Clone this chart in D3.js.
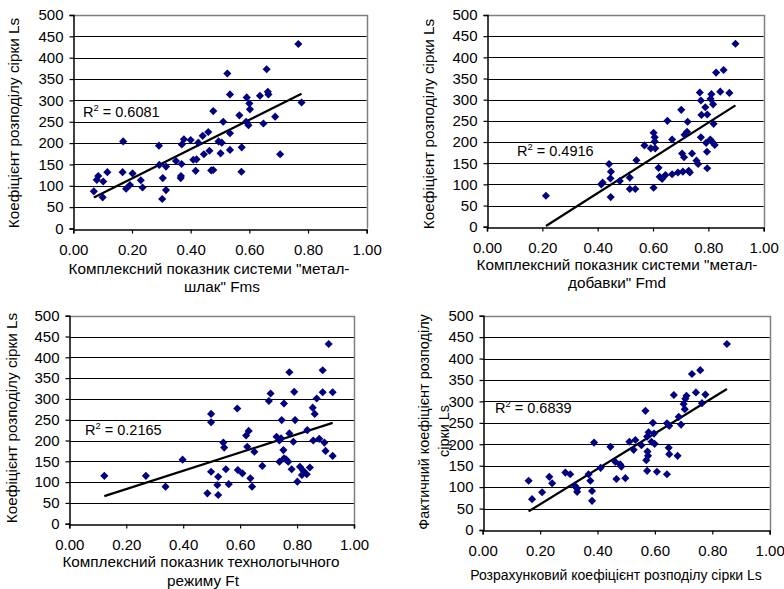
<!DOCTYPE html>
<html>
<head>
<meta charset="utf-8">
<script src="https://cdn.jsdelivr.net/npm/d3@7"></script>
<style>
  html, body { margin: 0; padding: 0; background: #fff; }
  svg { display: block; font-family: "Liberation Sans", Arial, sans-serif; }
</style>
</head>
<body>
<svg id="chart" width="784" height="589"></svg>
<script>
// Sulphur distribution coefficient Ls against the complex indicators

// "metal-slag" system indicator Fms
const fmsX = [0.070, 0.080, 0.085, 0.102, 0.100, 0.116, 0.170, 0.168, 0.180, 0.193, 0.202, 0.230, 0.236,
  0.292, 0.293, 0.303, 0.305, 0.316, 0.316, 0.350, 0.366, 0.367, 0.369, 0.370, 0.377, 0.400, 0.409,
  0.417, 0.420, 0.426, 0.441, 0.445, 0.460, 0.464, 0.470, 0.477, 0.477, 0.495, 0.502, 0.506, 0.511,
  0.525, 0.534, 0.534, 0.534, 0.566, 0.574, 0.573, 0.591, 0.589, 0.597, 0.600, 0.602, 0.636, 0.648,
  0.659, 0.663, 0.665, 0.688, 0.705, 0.767, 0.778];
const fmsY = [87, 114, 123, 110, 73, 132, 204, 132, 93, 102, 129, 113, 96,
  194, 149, 69, 118, 145, 90, 158, 118, 123, 151, 197, 209, 207, 161,
  135, 162, 201, 217, 174, 226, 182, 136, 137, 275, 204, 176, 201, 250,
  363, 223, 184, 314, 265, 190, 133, 307, 250, 242, 293, 279, 311, 246,
  373, 320, 314, 262, 174, 432, 295];

// "metal-additives" system indicator Fmd
const fmdX = [0.213, 0.413, 0.418, 0.441, 0.448, 0.446, 0.447, 0.480, 0.516, 0.516, 0.536, 0.540,
  0.569, 0.592, 0.602, 0.602, 0.606, 0.608, 0.606, 0.620, 0.624, 0.633, 0.645, 0.652, 0.669, 0.669,
  0.690, 0.702, 0.705, 0.708, 0.712, 0.714, 0.723, 0.725, 0.729, 0.733, 0.741, 0.757, 0.763, 0.769,
  0.773, 0.773, 0.775, 0.789, 0.792, 0.795, 0.796, 0.796, 0.807, 0.808, 0.811, 0.813, 0.817, 0.819,
  0.823, 0.828, 0.855, 0.843, 0.876, 0.898];
const fmdY = [73, 100, 104, 148, 130, 114, 70, 108, 116, 89, 89, 157,
  192, 185, 92, 222, 211, 185, 201, 139, 118, 113, 122, 250, 124, 206,
  128, 276, 173, 130, 164, 217, 224, 248, 132, 128, 173, 156, 148, 317,
  298, 211, 264, 282, 198, 177, 138, 265, 206, 302, 313, 201, 289, 243,
  193, 364, 370, 319, 316, 432];

// technological mode indicator Ft
const ftX = [0.123, 0.269, 0.338, 0.398, 0.485, 0.498, 0.498, 0.498, 0.520, 0.523, 0.523, 0.541,
  0.544, 0.550, 0.560, 0.590, 0.592, 0.608, 0.621, 0.625, 0.630, 0.636, 0.642, 0.650, 0.678, 0.701,
  0.707, 0.728, 0.738, 0.738, 0.746, 0.744, 0.752, 0.754, 0.754, 0.761, 0.769, 0.773, 0.773, 0.781,
  0.787, 0.790, 0.793, 0.801, 0.810, 0.817, 0.822, 0.834, 0.836, 0.845, 0.855, 0.857, 0.862, 0.869,
  0.878, 0.890, 0.890, 0.896, 0.900, 0.911, 0.925, 0.925];
const ftY = [115, 115, 89, 154, 73, 264, 244, 125, 93, 113, 69, 195,
  183, 131, 95, 277, 129, 121, 212, 185, 223, 109, 89, 173, 139, 295,
  313, 209, 149, 200, 249, 205, 177, 289, 157, 155, 149, 364, 217, 131,
  197, 317, 249, 101, 137, 117, 127, 119, 225, 135, 279, 200, 264, 301,
  204, 316, 369, 195, 175, 432, 316, 163];

// calculated coefficient Ls
const calcX = [0.160, 0.172, 0.207, 0.232, 0.242, 0.288, 0.305, 0.321, 0.329, 0.329, 0.369, 0.375,
  0.381, 0.381, 0.388, 0.411, 0.445, 0.462, 0.466, 0.479, 0.483, 0.497, 0.511, 0.526, 0.532, 0.553,
  0.567, 0.573, 0.570, 0.573, 0.574, 0.576, 0.578, 0.588, 0.593, 0.597, 0.599, 0.607, 0.642, 0.642,
  0.650, 0.648, 0.650, 0.666, 0.679, 0.683, 0.691, 0.700, 0.704, 0.706, 0.710, 0.729, 0.743, 0.758,
  0.764, 0.776, 0.851];
const calcY = [115, 72, 88, 124, 109, 134, 130, 103, 97, 89, 130, 115,
  91, 68, 204, 145, 194, 159, 119, 153, 148, 121, 206, 187, 210, 198,
  278, 218, 163, 138, 183, 173, 228, 206, 250, 225, 201, 136, 130, 249,
  243, 192, 177, 315, 173, 264, 246, 294, 282, 306, 313, 364, 321, 373,
  296, 316, 434];

const xTicks = [0, 0.2, 0.4, 0.6, 0.8, 1.0];
const yTicks = [0, 50, 100, 150, 200, 250, 300, 350, 400, 450, 500];
const r2Labels = ["0.6081", "0.4916", "0.2165", "0.6839"];
const yTitles = [
  ["Коефіцієнт розподілу сірки Ls"],
  ["Коефіцієнт розподілу сірки Ls"],
  ["Коефіцієнт розподілу сірки Ls"],
  ["Фактичний коефіцієнт розподілу", "сірки Ls"]
];
const xTitles = [
  ["Комплексний показник системи \"метал-", "шлак\" Fms"],
  ["Комплексний показник системи \"метал-", "добавки\" Fmd"],
  ["Комплексний показник технологычного", "режиму Ft"],
  ["Розрахунковий коефіцієнт розподілу сірки Ls"]
];

const svg = d3.select("#chart");
const TICK_FONT = 15;
const R2_FONT = 14.5;
const navy = "#000080";

const panels = [
  { xs: fmsX, ys: fmsY, box: [73.3, 366.7, 15, 228.5], titleFont: [15.3, 15.3],
    yTitle: { x: [15], y: [123] }, xTitle: { y: [274, 292], cx: [209, 222] }, r2: [83, 117] },
  { xs: fmdX, ys: fmdY, box: [487, 763.7, 15, 226.7], titleFont: [15.3, 15.3],
    yTitle: { x: [430], y: [124] }, xTitle: { y: [270, 288], cx: [617, 617] }, r2: [517, 156] },
  { xs: ftX, ys: ftY, box: [69.3, 354, 315.7, 523.7], titleFont: [15.3, 15.3],
    yTitle: { x: [13], y: [418] }, xTitle: { y: [566.5, 585.5], cx: [201, 203] }, r2: [85, 435] },
  { xs: calcX, ys: calcY, box: [482.7, 769.7, 315.7, 530], titleFont: [14.4, 14],
    yTitle: { x: [425, 445], y: [422, 431] }, xTitle: { y: [580], cx: [616] }, r2: [495, 413] }
];

// Ordinary least-squares line y = a + b x
function fitLine(xs, ys) {
  const n = xs.length;
  const mx = d3.mean(xs), my = d3.mean(ys);
  let sxy = 0, sxx = 0;
  for (let i = 0; i < n; i++) {
    sxy += (xs[i] - mx) * (ys[i] - my);
    sxx += (xs[i] - mx) * (xs[i] - mx);
  }
  const b = sxy / sxx;
  return { a: my - b * mx, b };
}

panels.forEach((p, i) => {
  const [x0, x1, y0, y1] = p.box;
  const x = d3.scaleLinear().domain([0, 1]).range([x0, x1]);
  const y = d3.scaleLinear().domain([0, 500]).range([y1, y0]);
  const g = svg.append("g");

  // horizontal gridlines
  g.append("g").selectAll("line").data(yTicks.filter(v => v > 0 && v < 500)).join("line")
    .attr("x1", x0).attr("x2", x1)
    .attr("y1", d => Math.round(y(d)) + 0.5).attr("y2", d => Math.round(y(d)) + 0.5)
    .attr("stroke", "#000").attr("stroke-width", 1);

  // plot frame (top and right)
  g.append("path")
    .attr("d", `M${x0},${Math.round(y0) + 0.5}H${Math.round(x1) + 0.5}V${y1}`)
    .attr("fill", "none").attr("stroke", "#808080").attr("stroke-width", 1.5);

  // axes
  const yAxis = d3.axisLeft(y).tickValues(yTicks).tickSize(4).tickFormat(d3.format("d"));
  const xAxis = d3.axisBottom(x).tickValues(xTicks).tickSize(4).tickFormat(d3.format(".2f"));

  const ya = g.append("g").attr("transform", `translate(${Math.round(x0) + 0.5},0)`).call(yAxis);
  const xa = g.append("g").attr("transform", `translate(0,${Math.round(y1) + 0.5})`).call(xAxis);
  [ya, xa].forEach(a => {
    a.select(".domain").attr("stroke", "#000").attr("stroke-width", 1.5);
    a.selectAll(".tick line").attr("stroke", "#000").attr("stroke-width", 1.2);
    a.selectAll("text").attr("font-size", TICK_FONT).attr("font-family", "Liberation Sans, Arial, sans-serif")
      .attr("fill", "#000");
  });
  ya.selectAll(".tick text").attr("x", -10);
  xa.selectAll(".tick text").attr("y", 14.5);

  // trend line over the range of the observations
  const fit = fitLine(p.xs, p.ys);
  const ext = d3.extent(p.xs);
  g.append("line")
    .attr("x1", x(ext[0])).attr("y1", y(fit.a + fit.b * ext[0]))
    .attr("x2", x(ext[1])).attr("y2", y(fit.a + fit.b * ext[1]))
    .attr("stroke", "#000").attr("stroke-width", 2.2);

  // data markers (diamonds)
  const pts = p.xs.map((v, k) => [v, p.ys[k]]);
  const diamond = d3.symbol(d3.symbolSquare, 33);
  g.append("g").selectAll("path").data(pts).join("path")
    .attr("d", diamond)
    .attr("transform", d => `translate(${x(d[0])},${y(d[1])}) rotate(45)`)
    .attr("fill", navy);

  // coefficient of determination
  const r2 = g.append("text").attr("x", p.r2[0]).attr("y", p.r2[1])
    .attr("font-size", R2_FONT).attr("fill", "#000");
  r2.append("tspan").text("R");
  r2.append("tspan").text("2").attr("font-size", R2_FONT * 0.65).attr("dy", -6);
  r2.append("tspan").text(" = " + r2Labels[i]).attr("dy", 6);

  // axis titles
  yTitles[i].forEach((t, k) => {
    g.append("text")
      .attr("transform", `translate(${p.yTitle.x[k]},${p.yTitle.y[k]}) rotate(-90)`)
      .attr("text-anchor", "middle").attr("dominant-baseline", "middle")
      .attr("font-size", p.titleFont[0]).attr("fill", "#000").text(t);
  });
  xTitles[i].forEach((t, k) => {
    g.append("text").attr("x", p.xTitle.cx[k]).attr("y", p.xTitle.y[k])
      .attr("text-anchor", "middle").attr("font-size", p.titleFont[1]).attr("fill", "#000").text(t);
  });
});
</script>
</body>
</html>
